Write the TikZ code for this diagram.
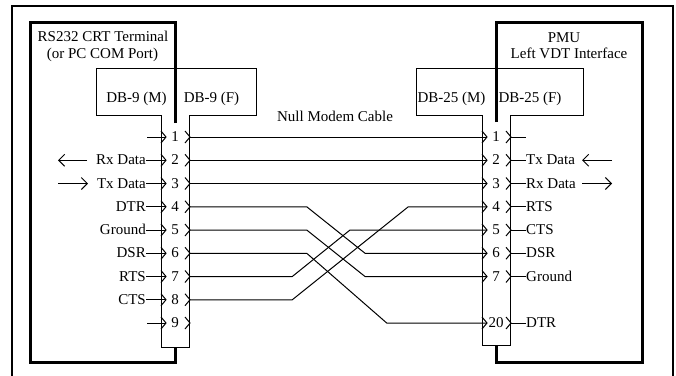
\documentclass[tikz,border=0pt]{standalone}
\usepackage{fontspec}
\setmainfont{Liberation Serif}
\usetikzlibrary{arrows.meta,calc}
\begin{document}
\begin{tikzpicture}[x=1pt,y=-1pt,
  wire/.style={line width=1pt, line join=miter},
  thickbox/.style={line width=3pt, line cap=rect},
  frameline/.style={line width=2pt},
  txt/.style={inner sep=0pt, font=\fontsize{15}{18}\selectfont},
  sig/.style={line width=1pt, -{Straight Barb[length=6pt,width=12pt,line width=1pt]}},
  ]
\useasboundingbox (0,0) rectangle (676,375);
% outer frame
\draw[frameline] (12,380) -- (12,6) -- (673,6) -- (673,380);

% connector outlines
\draw[wire, fill=white] (96,68) -- (256,68) -- (256,115) -- (189,115) -- (189,347) -- (161,347) -- (161,115) -- (96,115) -- cycle;
\draw[wire, fill=white] (416,68) -- (583,68) -- (583,115) -- (510,115) -- (510,345) -- (482,345) -- (482,115) -- (416,115) -- cycle;

% device boxes
\draw[thickbox, line cap=butt] (175,123) -- (175,22) -- (30,22) -- (30,362) -- (175,362) -- (175,347);
\draw[thickbox, line cap=butt] (496,122) -- (496,22) -- (642,22) -- (642,362) -- (496,362) -- (496,345);

% titles
\node[txt, anchor=base] (t1) at (103,41.7) {RS232 CRT Terminal};
\node[txt, anchor=base] (t2) at (102.5,58.3) {(or PC COM Port)};
\node[txt, anchor=base] (p1) at (564,42) {PMU};
\node[txt, anchor=base] (p2) at (569,58.5) {Left VDT Interface};
\node[txt, anchor=base] (db9m) at (136.5,102) {DB-9 (M)};
\node[txt, anchor=base] (db9f) at (211.5,102) {DB-9 (F)};
\node[txt, anchor=base] (db25m) at (451.5,102.5) {DB-25 (M)};
\node[txt, anchor=base] (db25f) at (530,102.5) {DB-25 (F)};
\node[txt, anchor=base] (nmc) at (335,121.7) {Null Modem Cable};

% left pins
\foreach \k in {1,...,9} {
  \pgfmathsetmacro\yy{137+(\k-1)*23.25}
  \coordinate (lm\k) at (166,\yy);
  \coordinate (lf\k) at (190,\yy);
  \node[txt, anchor=base] (lp\k) at (175,\yy+4.5) {\k};
  \draw[wire] ($(lm\k)+(-5,-6)$) -- (lm\k) -- ($(lm\k)+(-5,6)$);
  \draw[wire] ($(lf\k)+(-5,-6)$) -- (lf\k) -- ($(lf\k)+(-5,6)$);
}
% left labels
\foreach \k/\lab in {2/Rx Data,3/Tx Data,4/DTR,5/Ground,6/DSR,7/RTS,8/CTS} {
  \pgfmathsetmacro\yy{137+(\k-1)*23.25}
  \node[txt, anchor=base east] (ll\k) at (146,\yy+4.5) {\lab};
  \draw[wire] (ll\k.east |- lm\k) -- (lm\k);
}
\coordinate (ls1) at (147,137);
\coordinate (ls9) at (147,323);
\draw[wire] (ls1) -- (lm1);
\draw[wire] (ls9) -- (lm9);

% right pins
\foreach \k/\r in {1/1,2/2,3/3,4/4,5/5,6/6,7/7,20/9} {
  \pgfmathsetmacro\yy{137+(\r-1)*23.25}
  \coordinate (rm\k) at (487,\yy);
  \coordinate (rf\k) at (511,\yy);
  \node[txt, anchor=base] (rp\k) at (496,\yy+4.5) {\k};
  \draw[wire] ($(rm\k)+(-5,-6)$) -- (rm\k) -- ($(rm\k)+(-5,6)$);
  \draw[wire] ($(rf\k)+(-5,-6)$) -- (rf\k) -- ($(rf\k)+(-5,6)$);
}
\foreach \k/\r/\lab in {2/2/Tx Data,3/3/Rx Data,4/4/RTS,5/5/CTS,6/6/DSR,7/7/Ground,20/9/DTR} {
  \pgfmathsetmacro\yy{137+(\r-1)*23.25}
  \node[txt, anchor=base west] (rl\k) at (526,\yy+4.5) {\lab};
  \draw[wire] (rf\k) -- (rl\k.west |- rf\k);
}
\coordinate (re1) at (526,137);
\draw[wire] (rf1) -- (re1);

% signal direction arrows
\coordinate (la2s) at (87,160.25);  \coordinate (la2e) at (58,160.25);
\coordinate (la3s) at (58,183.5);   \coordinate (la3e) at (88,183.5);
\coordinate (ra2s) at (612,160.25); \coordinate (ra2e) at (582,160.25);
\coordinate (ra3s) at (582,183.5);  \coordinate (ra3e) at (612,183.5);
\draw[sig] (la2s) -- (la2e);
\draw[sig] (la3s) -- (la3e);
\draw[sig] (ra2s) -- (ra2e);
\draw[sig] (ra3s) -- (ra3e);

% null modem cable wires
\draw[wire] (lf1) -- (rm1);
\draw[wire] (lf2) -- (rm2);
\draw[wire] (lf3) -- (rm3);
\draw[wire] (lf4) -- (306.7,206.75) -- (365,253.25) -- (rm6);
\draw[wire] (lf5) -- (306.7,230) -- (365,276.5) -- (rm7);
\draw[wire] (lf6) -- (306.7,253.25) -- (386.7,323) -- (rm20);
\draw[wire] (lf7) -- (292.3,276.5) -- (350,230) -- (rm5);
\draw[wire] (lf8) -- (292.3,299.75) -- (408.3,206.75) -- (rm4);
\end{tikzpicture}
\end{document}
